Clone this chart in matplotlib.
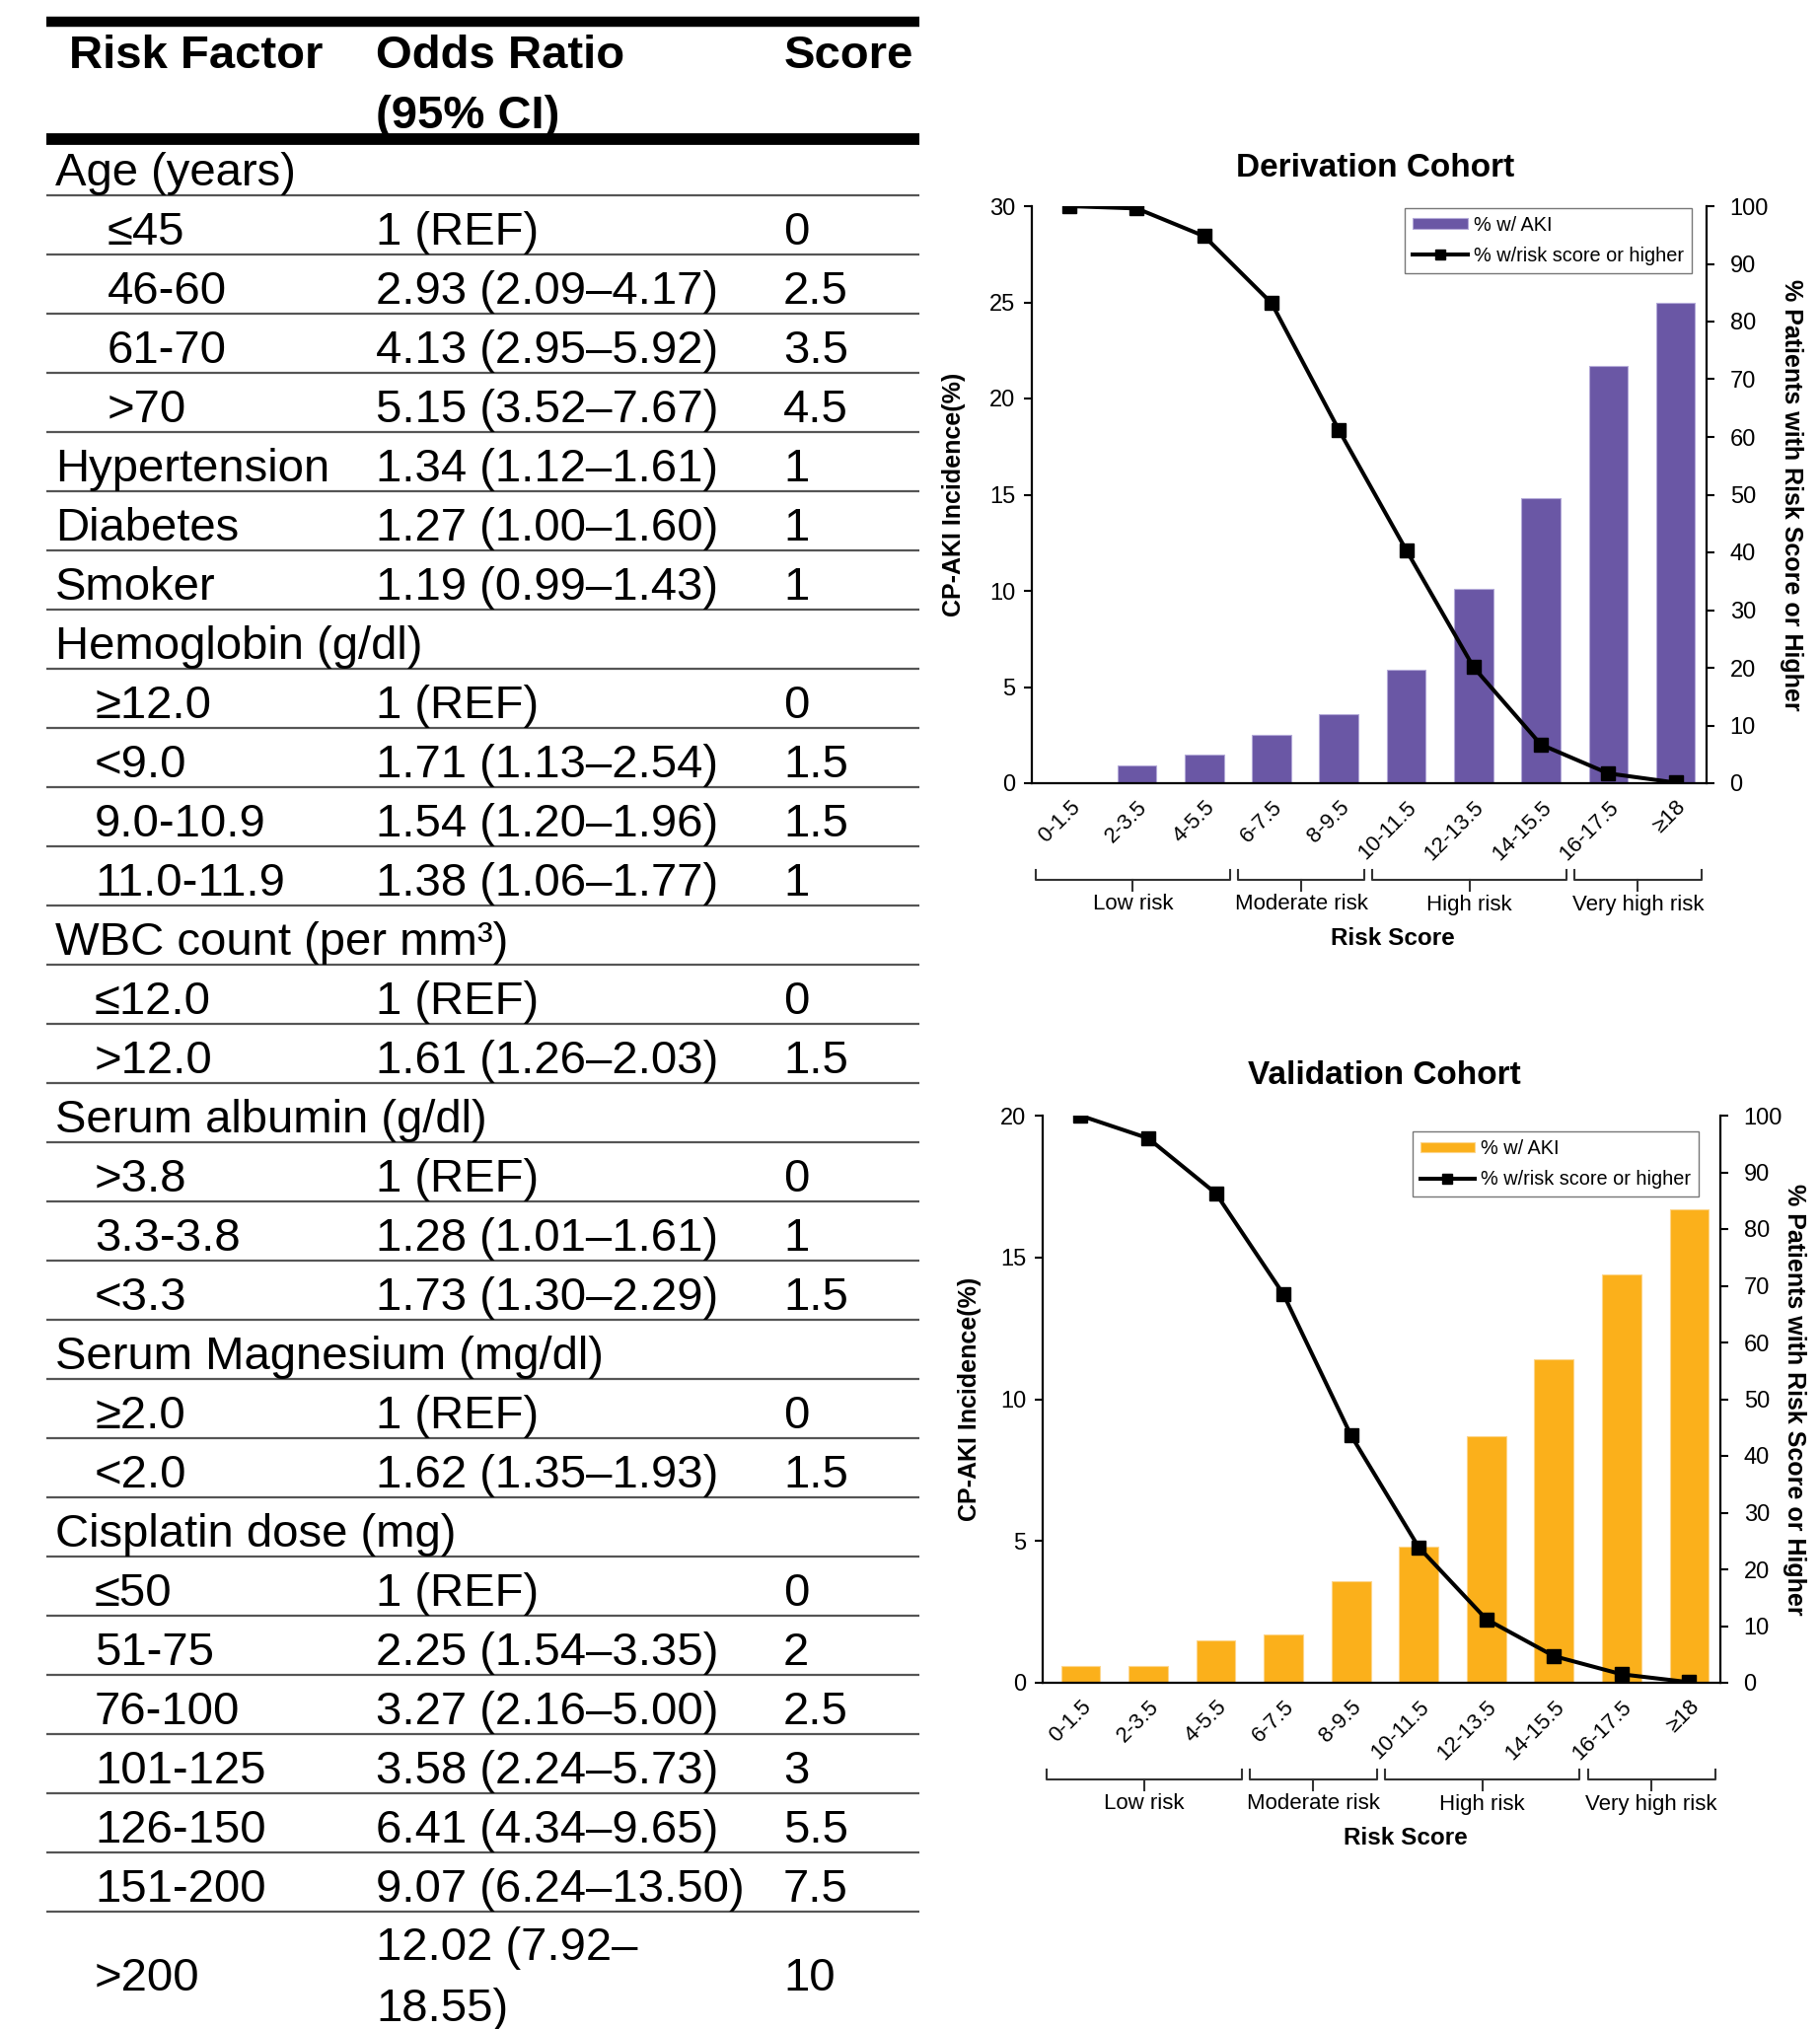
import matplotlib
matplotlib.use("Agg")
import matplotlib.pyplot as plt
from matplotlib.transforms import blended_transform_factory

plt.rcParams['font.family'] = ['Liberation Sans', 'DejaVu Sans']

# ---------------- data ----------------
categories = ['0-1.5', '2-3.5', '4-5.5', '6-7.5', '8-9.5', '10-11.5',
              '12-13.5', '14-15.5', '16-17.5', '≥18']
deriv_aki = [0.0, 0.9, 1.5, 2.5, 3.6, 5.9, 10.1, 14.8, 21.7, 25.0]
deriv_cum = [100, 99.6, 94.8, 83.2, 61.2, 40.4, 20.1, 6.7, 1.7, 0.1]
valid_aki = [0.6, 0.6, 1.5, 1.7, 3.6, 4.8, 8.7, 11.4, 14.4, 16.7]
valid_cum = [100, 96.0, 86.3, 68.5, 43.6, 23.9, 11.2, 4.7, 1.5, 0.1]

risk_groups = ['Low risk', 'Moderate risk', 'High risk', 'Very high risk']
risk_group_start = [0, 3, 5, 8]
risk_group_end = [2, 4, 7, 9]

legend_labels = ['% w/ AKI', '% w/risk score or higher']

header_cols = ['Risk Factor', 'Odds Ratio\n(95% CI)', 'Score']
row_labels = ['Age (years)', '≤45', '46-60', '61-70', '>70', 'Hypertension',
              'Diabetes', 'Smoker', 'Hemoglobin (g/dl)', '≥12.0', '<9.0',
              '9.0-10.9', '11.0-11.9', 'WBC count (per mm³)', '≤12.0', '>12.0',
              'Serum albumin (g/dl)', '>3.8', '3.3-3.8', '<3.3',
              'Serum Magnesium (mg/dl)', '≥2.0', '<2.0', 'Cisplatin dose (mg)',
              '≤50', '51-75', '76-100', '101-125', '126-150', '151-200', '>200']
row_odds = ['', '1 (REF)', '2.93 (2.09–4.17)', '4.13 (2.95–5.92)',
            '5.15 (3.52–7.67)', '1.34 (1.12–1.61)', '1.27 (1.00–1.60)',
            '1.19 (0.99–1.43)', '', '1 (REF)', '1.71 (1.13–2.54)',
            '1.54 (1.20–1.96)', '1.38 (1.06–1.77)', '', '1 (REF)',
            '1.61 (1.26–2.03)', '', '1 (REF)', '1.28 (1.01–1.61)',
            '1.73 (1.30–2.29)', '', '1 (REF)', '1.62 (1.35–1.93)', '',
            '1 (REF)', '2.25 (1.54–3.35)', '3.27 (2.16–5.00)',
            '3.58 (2.24–5.73)', '6.41 (4.34–9.65)', '9.07 (6.24–13.50)',
            '12.02 (7.92–\n18.55)']
row_scores = ['', '0', '2.5', '3.5', '4.5', '1', '1', '1', '', '0', '1.5',
              '1.5', '1', '', '0', '1.5', '', '0', '1', '1.5', '', '0', '1.5',
              '', '0', '2', '2.5', '3', '5.5', '7.5', '10']
row_level = [0, 2, 2, 2, 2, 0, 0, 0, 0, 1, 1, 1, 1, 0, 1, 1, 0, 1, 1, 1, 0,
             1, 1, 0, 1, 1, 1, 1, 1, 1, 1]

# ---------------- figure ----------------
W, H = 1845, 2057
fig = plt.figure(figsize=(W / 100, H / 100), dpi=100)

# ---- table (pixel coordinate axes) ----
tab = fig.add_axes([0, 0, 1, 1])
tab.set_xlim(0, W)
tab.set_ylim(H, 0)
tab.axis('off')

TFS = 34
tx_left, tx_right = 47, 932
col_x = [70, 381, 795]
level_x = [56, 96, 109]
row_h = 60
first_bottom = 198

tab.plot([tx_left, tx_right], [22, 22], color='black', lw=7.5, solid_capstyle='butt')
tab.plot([tx_left, tx_right], [141, 141], color='black', lw=8.5, solid_capstyle='butt')

for cx, htxt in zip(col_x, header_cols):
    for j, line in enumerate(htxt.split('\n')):
        tab.text(cx, 69 + j * 61, line, fontsize=TFS, fontweight='bold',
                 ha='left', va='baseline')

n_rows = len(row_labels)
for i in range(n_rows):
    bottom = first_bottom + i * row_h
    top = bottom - row_h
    nlines = max(row_odds[i].count('\n') + 1, 1)
    if i == n_rows - 1:
        bottom = top + 2 * row_h
    mid = (top + bottom) / 2
    base = mid + 20
    tab.text(level_x[row_level[i]], base, row_labels[i], fontsize=TFS,
             ha='left', va='baseline')
    for j, line in enumerate(row_odds[i].split('\n')):
        tab.text(col_x[1], base + (j - (nlines - 1) / 2) * 62, line,
                 fontsize=TFS, ha='left', va='baseline')
    tab.text(col_x[2] - 1, base, row_scores[i], fontsize=TFS,
             ha='left', va='baseline')
    if i < n_rows - 1:
        tab.plot([tx_left, tx_right], [bottom, bottom], color='#555555',
                 lw=1.6, solid_capstyle='butt')


# ---- charts ----
def px_axes(left, top, right, bottom):
    return fig.add_axes([left / W, 1 - bottom / H, (right - left) / W,
                         (bottom - top) / H])


def draw_chart(ax, aki, cum, color, edge, title, ymax, title_x, title_y,
               ylab_x, y2lab_x, leg_anchor):
    x = list(range(len(categories)))
    hpx = ax.get_position().height * H
    bars = ax.bar(x, aki, width=0.58, color=color, edgecolor=edge,
                  linewidth=0.8, zorder=2)
    ax.set_xlim(-0.56, len(categories) - 0.54)
    ax.set_ylim(0, ymax)
    ax.set_yticks(range(0, ymax + 1, 5))
    ax.set_xticks(x)
    ax.set_xticklabels(categories, rotation=45, ha='right', va='top',
                       rotation_mode='anchor', fontsize=16)
    ax.tick_params(axis='x', length=0, pad=10)
    ax.tick_params(axis='y', direction='out', length=6, width=1.5,
                   labelsize=17, pad=6)
    for s in ['top', 'right']:
        ax.spines[s].set_visible(False)
    for s in ['left', 'bottom']:
        ax.spines[s].set_linewidth(1.6)

    ax2 = ax.twinx()
    line, = ax2.plot(x, cum, color='black', lw=2.9, marker='s', ms=9.5,
                     zorder=3)
    ax2.set_ylim(0, 100)
    ax2.set_yticks(range(0, 101, 10))
    ax2.tick_params(axis='y', direction='out', length=6, width=1.5,
                    labelsize=17, pad=11)
    for s in ['top', 'left', 'bottom']:
        ax2.spines[s].set_visible(False)
    ax2.spines['right'].set_linewidth(1.6)

    leg = ax2.legend([bars, line], legend_labels, loc='upper right',
                     bbox_to_anchor=leg_anchor, borderaxespad=0, fontsize=14.3,
                     frameon=True, fancybox=False, edgecolor='#777777',
                     framealpha=1, handlelength=2.8, handleheight=0.45,
                     handletextpad=0.3, labelspacing=0.6, borderpad=0.4,
                     markerscale=0.75)
    leg.get_frame().set_linewidth(1.0)

    ax.text(title_x, title_y, title, transform=ax.transAxes, ha='center',
            va='center', fontsize=24, fontweight='bold')
    ax.text(ylab_x, 0.5, 'CP-AKI Incidence(%)', transform=ax.transAxes,
            rotation=90, ha='center', va='center', fontsize=18,
            fontweight='bold')
    ax.text(y2lab_x, 0.5, '% Patients with Risk Score or Higher',
            transform=ax.transAxes, rotation=270, ha='center', va='center',
            fontsize=18, fontweight='bold')

    trans = blended_transform_factory(ax.transData, ax.transAxes)
    y_end = -88 / hpx
    y_line = -98 / hpx
    y_tick = -109 / hpx
    for name, s0, s1 in zip(risk_groups, risk_group_start, risk_group_end):
        x0 = s0 - 0.5
        x1 = s1 + 0.38
        xc = (x0 + x1) / 2
        ax.plot([x0, x0, x1, x1], [y_end, y_line, y_line, y_end],
                color='#333333', lw=1.5, transform=trans, clip_on=False)
        ax.plot([xc, xc], [y_line, y_tick], color='#333333', lw=1.5,
                transform=trans, clip_on=False)
        ax.text(xc, -123 / hpx, name, transform=trans, ha='center',
                va='center', fontsize=16)
    ax.text(0.535, -158 / hpx, 'Risk Score', transform=ax.transAxes,
            ha='center', va='center', fontsize=17.5, fontweight='bold')
    return ax2


ax_d = px_axes(1046, 209, 1730, 794)
draw_chart(ax_d, deriv_aki, deriv_cum, '#6A57A5', '#B3A9D8',
           'Derivation Cohort', 30, 0.509, 1.065, -0.1155, 1.1257,
           (0.978, 0.997))

ax_v = px_axes(1057, 1131, 1744, 1706)
draw_chart(ax_v, valid_aki, valid_cum, '#FBB01B', '#FDD58A',
           'Validation Cohort', 20, 0.504, 1.071, -0.1077, 1.109,
           (0.968, 0.972))

fig.savefig('out.png', dpi=100)
